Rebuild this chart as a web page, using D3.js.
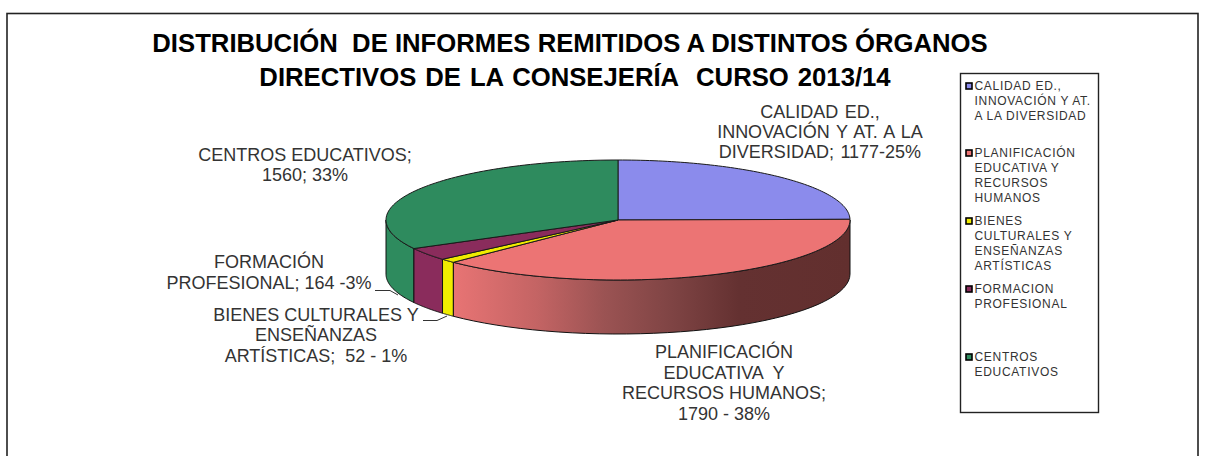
<!DOCTYPE html>
<html><head><meta charset="utf-8">
<script src="https://cdn.jsdelivr.net/npm/d3@7/dist/d3.min.js"></script>
<style>html,body{margin:0;padding:0;background:#fff}svg{display:block}text{font-family:"Liberation Sans",Arial,sans-serif}</style>
</head><body><svg id="c" width="1207" height="456"></svg>
<script>
const categories=["CALIDAD ED., INNOVACIÓN Y AT. A LA DIVERSIDAD","PLANIFICACIÓN EDUCATIVA Y RECURSOS HUMANOS","BIENES CULTURALES Y ENSEÑANZAS ARTÍSTICAS","FORMACION PROFESIONAL","CENTROS EDUCATIVOS"];
const values=[1177,1790,52,164,1560];
const colors=["#8B8BEC","#EC7474","#F0EC00","#8A2C5C","#2E8B5E"];
const sideColors=["#6f6fc0","url(#gradSide)","#F0EC00","#8A2C5C","#2E8B5E"];
const titleLines=[{text:"DISTRIBUCIÓN  DE INFORMES REMITIDOS A DISTINTOS ÓRGANOS",x:570,y:52,ws:0},{text:"DIRECTIVOS DE LA CONSEJERÍA  CURSO 2013/14",x:575,y:86,ws:1.8}];
const labelLines=[
 {lines:["CALIDAD ED.,","INNOVACIÓN Y AT. A LA","DIVERSIDAD; 1177-25%"],x:820,y:118,dy:20,ws:1.5},
 {lines:["PLANIFICACIÓN","EDUCATIVA  Y","RECURSOS HUMANOS;","1790 - 38%"],x:724,y:358,dy:20.5,ws:0},
 {lines:["BIENES CULTURALES Y","ENSEÑANZAS","ARTÍSTICAS;  52 - 1%"],x:316,y:321,dy:20.3,ws:0},
 {lines:["FORMACIÓN","PROFESIONAL; 164 -3%"],x:269,y:268,dy:20.5,ws:0},
 {lines:["CENTROS EDUCATIVOS;","1560; 33%"],x:305,y:161,dy:20,ws:0}
];
const legendLines=[
 {lines:["CALIDAD ED.,","INNOVACIÓN Y AT.","A LA DIVERSIDAD"],y:86},
 {lines:["PLANIFICACIÓN","EDUCATIVA Y","RECURSOS","HUMANOS"],y:153},
 {lines:["BIENES","CULTURALES Y","ENSEÑANZAS","ARTÍSTICAS"],y:221},
 {lines:["FORMACION","PROFESIONAL"],y:289},
 {lines:["CENTROS","EDUCATIVOS"],y:357}
];
const leaders=[
 {pts:[[375,290.5],[390,290.5],[398,295]]},
 {pts:[[423,320.5],[437,320.5],[447,316]]}
];
const svg=d3.select("#c");
const defs=svg.append("defs");
const grad=defs.append("linearGradient").attr("id","gradSide").attr("gradientUnits","userSpaceOnUse").attr("x1",453).attr("x2",850).attr("y1",0).attr("y2",0);
[[0,"#E87474"],[0.21,"#C46464"],[0.38,"#9B5353"],[0.55,"#7F4444"],[0.72,"#643131"],[1,"#622F2E"]].forEach(s=>grad.append("stop").attr("offset",s[0]).attr("stop-color",s[1]));

svg.append("rect").attr("x",7).attr("y",13.5).attr("width",1191).attr("height",460).attr("fill","#fff").attr("stroke","#222").attr("stroke-width",1.6);

const t=svg.append("g").attr("text-anchor","middle").attr("font-weight","bold").attr("font-size",25.7).attr("fill","#000");
titleLines.forEach(l=>t.append("text").attr("x",l.x).attr("y",l.y).attr("word-spacing",l.ws).style("white-space","pre").text(l.text));

const cx=618,cy=220,rx=232,ry=60,depth=54;
const pie=d3.pie().sort(null).value(d=>d)(values);
const pts=(a)=>[cx+rx*Math.sin(a),cy-ry*Math.cos(a)];
const line=d3.line();
const lo=Math.PI/2,hi=3*Math.PI/2;
[4,3,2,1,0].forEach(i=>{
  const a0=Math.max(pie[i].startAngle,lo),a1=Math.min(pie[i].endAngle,hi);
  if(a1<=a0) return;
  const arc=d3.range(0,41).map(k=>pts(a0+(a1-a0)*k/40));
  const bottom=arc.slice().reverse().map(p=>[p[0],p[1]+depth]);
  svg.append("path").attr("d",line(arc.concat(bottom))+"Z").attr("fill",sideColors[i]).attr("stroke","#111").attr("stroke-width",1).attr("stroke-linejoin","round");
});
pie.forEach((d,i)=>{
  const arc=d3.range(0,81).map(k=>pts(d.startAngle+(d.endAngle-d.startAngle)*k/80));
  svg.append("path").attr("d",line([[cx,cy]].concat(arc))+"Z").attr("fill",colors[i]).attr("stroke","#1a1a1a").attr("stroke-width",1).attr("stroke-linejoin","round");
});
const lg=svg.append("g").attr("text-anchor","middle").attr("font-size",18).attr("fill","#333");
labelLines.forEach(b=>{const e=lg.append("text").attr("word-spacing",b.ws).style("white-space","pre");b.lines.forEach((l,i)=>e.append("tspan").attr("x",b.x).attr("y",b.y+i*b.dy).text(l));});
leaders.forEach(l=>svg.append("path").attr("d",line(l.pts)).attr("fill","none").attr("stroke","#333").attr("stroke-width",1));
svg.append("rect").attr("x",960.5).attr("y",73.5).attr("width",138).attr("height",339).attr("fill","#fff").attr("stroke","#222").attr("stroke-width",1.4);
legendLines.forEach((b,i)=>{
  svg.append("rect").attr("x",966).attr("y",b.y-3).attr("width",6).attr("height",6).attr("fill",colors[i]).attr("stroke","#000").attr("stroke-width",1.6);
  const e=svg.append("text").attr("font-size",12).attr("fill","#333").attr("letter-spacing",0.7);
  b.lines.forEach((l,k)=>e.append("tspan").attr("x",974.5).attr("y",b.y+4+k*15).text(l));
});
</script></body></html>
